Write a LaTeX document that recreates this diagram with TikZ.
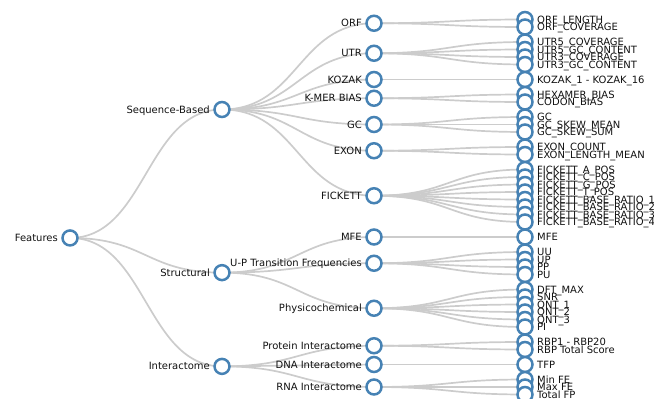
\documentclass[tikz,border=0pt]{standalone}
\usepackage{fontspec}
\setmainfont{DejaVu Sans}
\pgfdeclarelayer{bg}
\pgfsetlayers{bg,main}
\definecolor{steel}{HTML}{4682B4}
\definecolor{linkc}{HTML}{CCCCCC}
\definecolor{txt}{HTML}{111111}
\tikzset{
  dot/.style={circle,draw=steel,fill=white,line width=2.5pt,minimum size=15pt,inner sep=0pt},
  ltxt/.style={anchor=base west,inner sep=0pt,text=txt,font=\fontsize{10pt}{12pt}\selectfont},
  itxt/.style={anchor=base east,inner sep=0pt,text=txt,font=\fontsize{10pt}{12pt}\selectfont},
  link/.style={draw=linkc,line width=1.7pt}
}
\newcommand\mkleaf[3]{\node[dot] (#1) at (525,#2) {}; \node[ltxt] (#1-t) at (537,{#2+3.5}) {#3};}
\newcommand\mkinner[4]{\node[dot] (#1) at (#2,#3) {}; \node[itxt] (#1-t) at ({#2-12},{#3+3.5}) {#4};}
\newcommand\lnk[2]{\draw[link] (#1.center) .. controls +(76,0) and +(-76,0) .. (#2.center);}
\begin{document}
\begin{tikzpicture}[x=1pt,y=-1pt]
\useasboundingbox (0,0) rectangle (654,399);
% root and level 1
\mkinner{feat}{70}{237.94}{Features}
\mkinner{seq}{222}{109.5}{Sequence-Based}
\mkinner{str}{222}{272.625}{Structural}
\mkinner{int}{222}{366.375}{Interactome}
% level 2
\mkinner{orf}{374}{23.25}{ORF}
\mkinner{utr}{374}{53.25}{UTR}
\mkinner{koz}{374}{79.5}{KOZAK}
\mkinner{kmer}{374}{98.25}{K-MER BIAS}
\mkinner{gc}{374}{124.5}{GC}
\mkinner{exon}{374}{150.75}{EXON}
\mkinner{fick}{374}{195.75}{FICKETT}
\mkinner{mfe}{374}{237}{MFE}
\mkinner{up}{374}{263.25}{U-P Transition Frequencies}
\mkinner{phys}{374}{308.25}{Physicochemical}
\mkinner{prot}{374}{345.75}{Protein Interactome}
\mkinner{dna}{374}{364.5}{DNA Interactome}
\mkinner{rna}{374}{387}{RNA Interactome}
% leaves
\mkleaf{a1}{19.5}{ORF\_LENGTH}
\mkleaf{a2}{27}{ORF\_COVERAGE}
\mkleaf{b1}{42}{UTR5\_COVERAGE}
\mkleaf{b2}{49.5}{UTR5\_GC\_CONTENT}
\mkleaf{b3}{57}{UTR3\_COVERAGE}
\mkleaf{b4}{64.5}{UTR3\_GC\_CONTENT}
\mkleaf{c1}{79.5}{KOZAK\_1 - KOZAK\_16}
\mkleaf{d1}{94.5}{HEXAMER\_BIAS}
\mkleaf{d2}{102}{CODON\_BIAS}
\mkleaf{e1}{117}{GC}
\mkleaf{e2}{124.5}{GC\_SKEW\_MEAN}
\mkleaf{e3}{132}{GC\_SKEW\_SUM}
\mkleaf{f1}{147}{EXON\_COUNT}
\mkleaf{f2}{154.5}{EXON\_LENGTH\_MEAN}
\mkleaf{g1}{169.5}{FICKETT\_A\_POS}
\mkleaf{g2}{177}{FICKETT\_C\_POS}
\mkleaf{g3}{184.5}{FICKETT\_G\_POS}
\mkleaf{g4}{192}{FICKETT\_T\_POS}
\mkleaf{g5}{199.5}{FICKETT\_BASE\_RATIO\_1}
\mkleaf{g6}{207}{FICKETT\_BASE\_RATIO\_2}
\mkleaf{g7}{214.5}{FICKETT\_BASE\_RATIO\_3}
\mkleaf{g8}{222}{FICKETT\_BASE\_RATIO\_4}
\mkleaf{h1}{237}{MFE}
\mkleaf{i1}{252}{UU}
\mkleaf{i2}{259.5}{UP}
\mkleaf{i3}{267}{PP}
\mkleaf{i4}{274.5}{PU}
\mkleaf{j1}{289.5}{DFT\_MAX}
\mkleaf{j2}{297}{SNR}
\mkleaf{j3}{304.5}{QNT\_1}
\mkleaf{j4}{312}{QNT\_2}
\mkleaf{j5}{319.5}{QNT\_3}
\mkleaf{j6}{327}{PI}
\mkleaf{k1}{342}{RBP1 - RBP20}
\mkleaf{k2}{349.5}{RBP Total Score}
\mkleaf{l1}{364.5}{TFP}
\mkleaf{m1}{379.5}{Min FE}
\mkleaf{m2}{387}{Max FE}
\mkleaf{m3}{394.5}{Total FP}
\begin{pgfonlayer}{bg}
\lnk{feat}{seq}\lnk{feat}{str}\lnk{feat}{int}
\foreach \c in {orf,utr,koz,kmer,gc,exon,fick} {\lnk{seq}{\c}}
\foreach \c in {mfe,up,phys} {\lnk{str}{\c}}
\foreach \c in {prot,dna,rna} {\lnk{int}{\c}}
\foreach \c in {a1,a2} {\lnk{orf}{\c}}
\foreach \c in {b1,b2,b3,b4} {\lnk{utr}{\c}}
\lnk{koz}{c1}
\foreach \c in {d1,d2} {\lnk{kmer}{\c}}
\foreach \c in {e1,e2,e3} {\lnk{gc}{\c}}
\foreach \c in {f1,f2} {\lnk{exon}{\c}}
\foreach \c in {g1,g2,g3,g4,g5,g6,g7,g8} {\lnk{fick}{\c}}
\lnk{mfe}{h1}
\foreach \c in {i1,i2,i3,i4} {\lnk{up}{\c}}
\foreach \c in {j1,j2,j3,j4,j5,j6} {\lnk{phys}{\c}}
\foreach \c in {k1,k2} {\lnk{prot}{\c}}
\lnk{dna}{l1}
\foreach \c in {m1,m2,m3} {\lnk{rna}{\c}}
\end{pgfonlayer}
\end{tikzpicture}
\end{document}
